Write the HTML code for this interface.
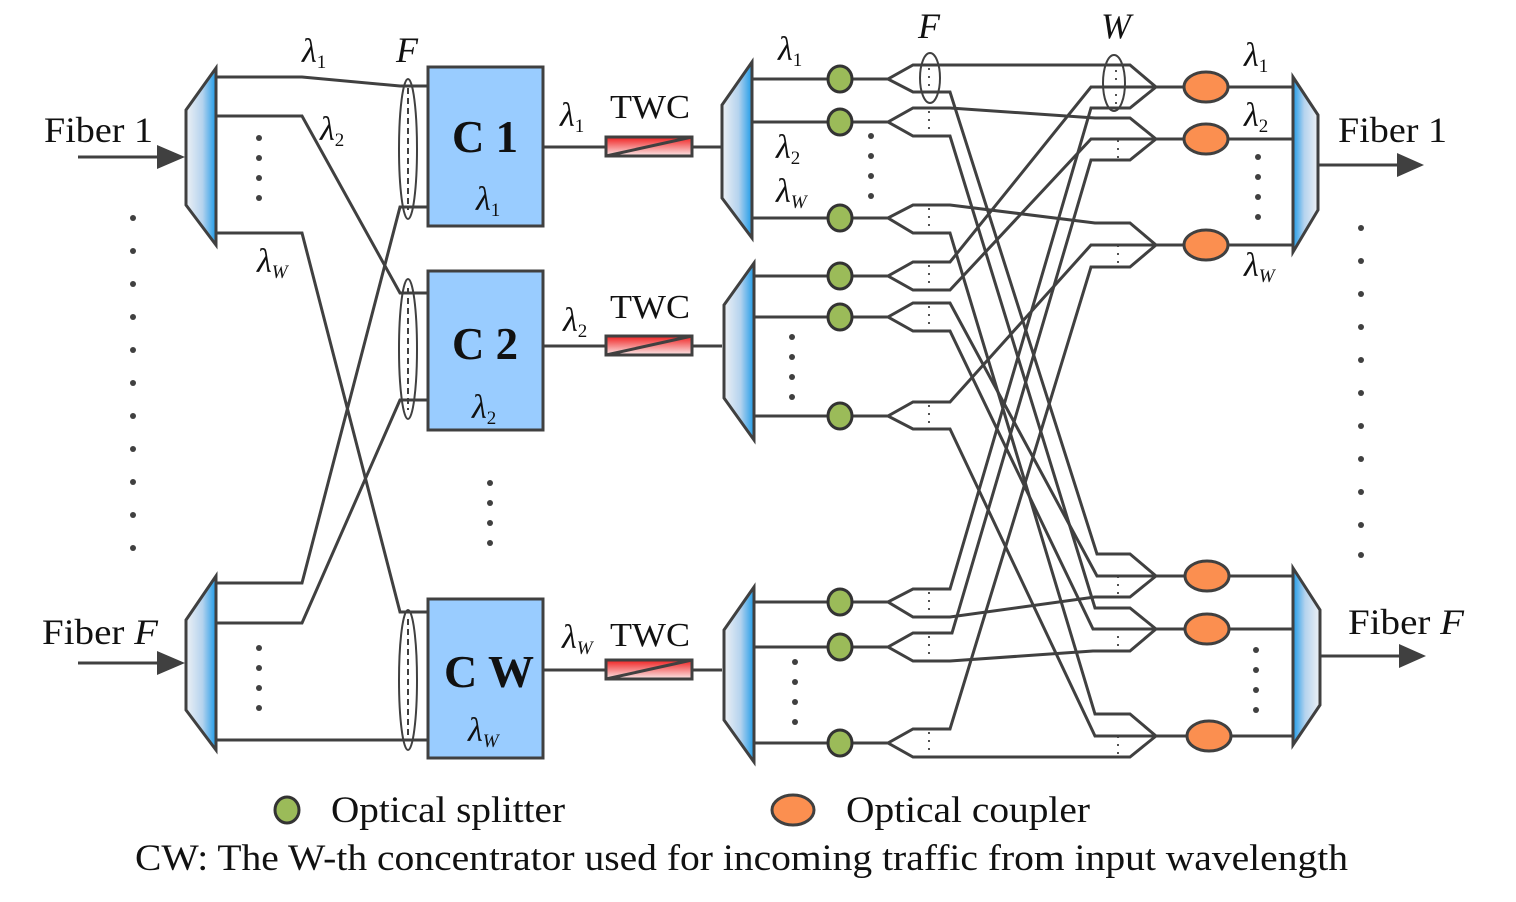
<!DOCTYPE html>
<html><head><meta charset="utf-8"><style>
html,body{margin:0;padding:0;background:#fff}
svg{display:block}
text{font-family:"Liberation Serif",serif;fill:#111}
</style></head><body>
<svg width="1516" height="902" viewBox="0 0 1516 902" xmlns="http://www.w3.org/2000/svg">
<defs>
<linearGradient id="gR" x1="0" x2="1" y1="0" y2="0"><stop offset="0" stop-color="#eef1f5"/><stop offset="0.55" stop-color="#b5d3ee"/><stop offset="1" stop-color="#1e9be8"/></linearGradient>
<linearGradient id="gL" x1="1" x2="0" y1="0" y2="0"><stop offset="0" stop-color="#eef1f5"/><stop offset="0.55" stop-color="#b5d3ee"/><stop offset="1" stop-color="#1e9be8"/></linearGradient>
<linearGradient id="gT" x1="0" x2="0" y1="0" y2="1"><stop offset="0" stop-color="#f02020"/><stop offset="1" stop-color="#fbe8e8"/></linearGradient>
</defs>
<g stroke="#404040" stroke-width="3" fill="none">
<line x1="78" y1="157" x2="160" y2="157"/><path d="M157,145 L185,157 L157,169 z" fill="#404040" stroke="none"/>
<line x1="78" y1="663" x2="160" y2="663"/><path d="M157,651 L185,663 L157,675 z" fill="#404040" stroke="none"/>
<path d="M186,110 L216,68 L216,245 L186,205 z" fill="url(#gR)"/>
<path d="M186,620 L216,576 L216,750 L186,710 z" fill="url(#gR)"/>
<polyline points="216,77 302,77 400,86 428,86"/>
<polyline points="216,116 302,116 400,293 428,293"/>
<polyline points="216,233 302,233 400,612 428,612"/>
<polyline points="216,583 302,583 400,207 428,207"/>
<polyline points="216,623 302,623 400,400 428,400"/>
<polyline points="216,740 428,740"/>
<rect x="428" y="67" width="115" height="159" fill="#99ccff"/>
<rect x="428" y="271" width="115" height="159" fill="#99ccff"/>
<rect x="428" y="599" width="115" height="159" fill="#99ccff"/>
<g stroke-width="2">
<ellipse cx="408" cy="149" rx="9" ry="70"/><line x1="408" y1="88" x2="408" y2="210" stroke-dasharray="6,4"/>
<ellipse cx="408" cy="349" rx="9" ry="70"/><line x1="408" y1="288" x2="408" y2="410" stroke-dasharray="6,4"/>
<ellipse cx="408" cy="680" rx="9" ry="70"/><line x1="408" y1="619" x2="408" y2="741" stroke-dasharray="6,4"/>
</g>
<line x1="543" y1="147" x2="722" y2="147"/>
<line x1="543" y1="346" x2="722" y2="346"/>
<line x1="543" y1="670" x2="722" y2="670"/>
<rect x="606" y="137" width="86" height="19" fill="url(#gT)"/><line x1="606" y1="156" x2="692" y2="137"/>
<rect x="606" y="336" width="86" height="19" fill="url(#gT)"/><line x1="606" y1="355" x2="692" y2="336"/>
<rect x="606" y="660" width="86" height="19" fill="url(#gT)"/><line x1="606" y1="679" x2="692" y2="660"/>
<line x1="752" y1="79" x2="888" y2="79"/><line x1="752" y1="122" x2="888" y2="122"/><line x1="752" y1="218" x2="888" y2="218"/>
<line x1="752" y1="276" x2="888" y2="276"/><line x1="752" y1="317" x2="888" y2="317"/><line x1="752" y1="416" x2="888" y2="416"/>
<line x1="752" y1="602" x2="888" y2="602"/><line x1="752" y1="647" x2="888" y2="647"/><line x1="752" y1="743" x2="888" y2="743"/>
<path d="M722,105 L752,62 L752,238 L722,198 z" fill="url(#gR)"/>
<path d="M724,305 L754,263 L754,440 L724,398 z" fill="url(#gR)"/>
<path d="M724,630 L754,587 L754,762 L724,720 z" fill="url(#gR)"/>
<polyline points="888,79 913,65 1130,65 1156,87"/>
<polyline points="888,79 913,92 950,92 1097,554 1130,554 1156,576"/>
<polyline points="888,122 913,108 950,108 1095,118 1130,118 1156,139"/>
<polyline points="888,122 913,136 950,136 1095,608 1130,608 1156,629"/>
<polyline points="888,218 913,205 950,205 1095,223 1130,223 1156,245"/>
<polyline points="888,218 913,233 950,233 1095,714 1130,714 1156,736"/>
<polyline points="888,276 913,262 950,262 1091,87 1156,87"/>
<polyline points="888,276 913,290 950,290 1091,139 1156,139"/>
<polyline points="888,317 913,303 950,303 1097,576 1156,576"/>
<polyline points="888,317 913,331 950,331 1093,629 1156,629"/>
<polyline points="888,416 913,402 950,402 1091,245 1156,245"/>
<polyline points="888,416 913,429 950,429 1095,736 1156,736"/>
<polyline points="888,602 913,589 950,589 1091,108 1130,108 1156,87"/>
<polyline points="888,602 913,617 950,617 1095,597 1130,597 1156,576"/>
<polyline points="888,647 913,633 952,633 1091,160 1130,160 1156,139"/>
<polyline points="888,647 913,661 950,661 1093,651 1130,651 1156,629"/>
<polyline points="888,743 913,729 950,729 1091,267 1130,267 1156,245"/>
<polyline points="888,743 913,757 1130,757 1156,736"/>
<line x1="1156" y1="87" x2="1293" y2="87"/><line x1="1156" y1="139" x2="1293" y2="139"/><line x1="1156" y1="245" x2="1293" y2="245"/>
<line x1="1156" y1="576" x2="1293" y2="576"/><line x1="1156" y1="629" x2="1293" y2="629"/><line x1="1156" y1="736" x2="1293" y2="736"/>
<path d="M1293,77 L1318,115 L1318,210 L1293,252 z" fill="url(#gL)"/>
<path d="M1293,568 L1320,610 L1320,705 L1293,745 z" fill="url(#gL)"/>
<line x1="1318" y1="165" x2="1400" y2="165"/><path d="M1397,153 L1424,165 L1397,177 z" fill="#404040" stroke="none"/>
<line x1="1320" y1="656" x2="1402" y2="656"/><path d="M1399,644 L1426,656 L1399,668 z" fill="#404040" stroke="none"/>
<g fill="#9bbb59" stroke="#333">
<ellipse cx="840" cy="79" rx="12" ry="13"/><ellipse cx="840" cy="122" rx="12" ry="13"/><ellipse cx="840" cy="218" rx="12" ry="13"/>
<ellipse cx="840" cy="276" rx="12" ry="13"/><ellipse cx="840" cy="317" rx="12" ry="13"/><ellipse cx="840" cy="416" rx="12" ry="13"/>
<ellipse cx="840" cy="602" rx="12" ry="13"/><ellipse cx="840" cy="647" rx="12" ry="13"/><ellipse cx="840" cy="743" rx="12" ry="13"/>
<ellipse cx="287" cy="810" rx="12" ry="13"/>
</g>
<g fill="#fb8f50" stroke="#404040">
<ellipse cx="1206" cy="87" rx="22" ry="15"/><ellipse cx="1206" cy="139" rx="22" ry="15"/><ellipse cx="1206" cy="245" rx="22" ry="15"/>
<ellipse cx="1207" cy="576" rx="22" ry="15"/><ellipse cx="1207" cy="629" rx="22" ry="15"/><ellipse cx="1209" cy="736" rx="22" ry="15"/>
<ellipse cx="793" cy="810" rx="21" ry="15"/>
</g>
<g stroke-width="1.8" stroke-dasharray="2,6">
<line x1="929" y1="68" x2="929" y2="92"/><line x1="929" y1="111" x2="929" y2="136"/><line x1="929" y1="208" x2="929" y2="233"/>
<line x1="929" y1="265" x2="929" y2="290"/><line x1="929" y1="306" x2="929" y2="331"/><line x1="929" y1="405" x2="929" y2="429"/>
<line x1="929" y1="592" x2="929" y2="617"/><line x1="929" y1="636" x2="929" y2="661"/><line x1="929" y1="732" x2="929" y2="757"/>
<line x1="1116" y1="70" x2="1116" y2="105"/><line x1="1118" y1="140" x2="1118" y2="158"/><line x1="1118" y1="245" x2="1118" y2="264"/>
<line x1="1118" y1="576" x2="1118" y2="595"/><line x1="1118" y1="628" x2="1118" y2="649"/><line x1="1118" y1="736" x2="1118" y2="755"/>
</g>
<g stroke-width="2">
<ellipse cx="930" cy="78" rx="10" ry="25"/>
<ellipse cx="1114" cy="83" rx="11" ry="28"/>
</g>
</g>
<g fill="#404040">
<circle cx="133" cy="218" r="3"/><circle cx="133" cy="251" r="3"/><circle cx="133" cy="284" r="3"/><circle cx="133" cy="317" r="3"/><circle cx="133" cy="350" r="3"/><circle cx="133" cy="383" r="3"/><circle cx="133" cy="416" r="3"/><circle cx="133" cy="449" r="3"/><circle cx="133" cy="482" r="3"/><circle cx="133" cy="515" r="3"/><circle cx="133" cy="548" r="3"/>
<circle cx="1361" cy="228" r="3"/><circle cx="1361" cy="261" r="3"/><circle cx="1361" cy="294" r="3"/><circle cx="1361" cy="327" r="3"/><circle cx="1361" cy="360" r="3"/><circle cx="1361" cy="393" r="3"/><circle cx="1361" cy="426" r="3"/><circle cx="1361" cy="459" r="3"/><circle cx="1361" cy="492" r="3"/><circle cx="1361" cy="525" r="3"/><circle cx="1361" cy="555" r="3"/>
<circle cx="259" cy="138" r="3"/><circle cx="259" cy="158" r="3"/><circle cx="259" cy="178" r="3"/><circle cx="259" cy="198" r="3"/>
<circle cx="259" cy="648" r="3"/><circle cx="259" cy="668" r="3"/><circle cx="259" cy="688" r="3"/><circle cx="259" cy="708" r="3"/>
<circle cx="490" cy="483" r="3"/><circle cx="490" cy="503" r="3"/><circle cx="490" cy="523" r="3"/><circle cx="490" cy="543" r="3"/>
<circle cx="871" cy="136" r="3"/><circle cx="871" cy="156" r="3"/><circle cx="871" cy="176" r="3"/><circle cx="871" cy="196" r="3"/>
<circle cx="792" cy="337" r="3"/><circle cx="792" cy="357" r="3"/><circle cx="792" cy="377" r="3"/><circle cx="792" cy="397" r="3"/>
<circle cx="795" cy="662" r="3"/><circle cx="795" cy="682" r="3"/><circle cx="795" cy="702" r="3"/><circle cx="795" cy="722" r="3"/>
<circle cx="1258" cy="157" r="3"/><circle cx="1258" cy="177" r="3"/><circle cx="1258" cy="197" r="3"/><circle cx="1258" cy="217" r="3"/>
<circle cx="1256" cy="650" r="3"/><circle cx="1256" cy="670" r="3"/><circle cx="1256" cy="690" r="3"/><circle cx="1256" cy="710" r="3"/>
</g>
<g font-size="36">
<text x="44" y="142" textLength="109" lengthAdjust="spacingAndGlyphs">Fiber 1</text>
<text x="42" y="644" textLength="116" lengthAdjust="spacingAndGlyphs">Fiber <tspan font-style="italic">F</tspan></text>
<text x="1338" y="142" textLength="109" lengthAdjust="spacingAndGlyphs">Fiber 1</text>
<text x="1348" y="634" textLength="116" lengthAdjust="spacingAndGlyphs">Fiber <tspan font-style="italic">F</tspan></text>
<text x="610" y="118" font-size="34" textLength="80" lengthAdjust="spacingAndGlyphs">TWC</text>
<text x="610" y="318" font-size="34" textLength="80" lengthAdjust="spacingAndGlyphs">TWC</text>
<text x="610" y="646" font-size="34" textLength="80" lengthAdjust="spacingAndGlyphs">TWC</text>
<text x="396" y="62" font-style="italic">F</text>
<text x="918" y="38" font-style="italic">F</text>
<text x="1101" y="38" font-style="italic">W</text>
</g>
<g font-size="46" font-weight="bold">
<text x="452" y="152" textLength="66" lengthAdjust="spacingAndGlyphs">C 1</text>
<text x="452" y="359" textLength="66" lengthAdjust="spacingAndGlyphs">C 2</text>
<text x="444" y="687" textLength="90" lengthAdjust="spacingAndGlyphs">C W</text>
</g>
<g font-size="34" font-style="italic">
<text x="302" y="62">λ<tspan font-size="19" font-style="normal" dy="6">1</tspan></text>
<text x="320" y="140">λ<tspan font-size="19" font-style="normal" dy="6">2</tspan></text>
<text x="257" y="272">λ<tspan font-size="19" dy="6">W</tspan></text>
<text x="476" y="210">λ<tspan font-size="19" font-style="normal" dy="6">1</tspan></text>
<text x="472" y="418">λ<tspan font-size="19" font-style="normal" dy="6">2</tspan></text>
<text x="468" y="741">λ<tspan font-size="19" dy="6">W</tspan></text>
<text x="560" y="126">λ<tspan font-size="19" font-style="normal" dy="6">1</tspan></text>
<text x="563" y="331">λ<tspan font-size="19" font-style="normal" dy="6">2</tspan></text>
<text x="562" y="648">λ<tspan font-size="19" dy="6">W</tspan></text>
<text x="778" y="60">λ<tspan font-size="19" font-style="normal" dy="6">1</tspan></text>
<text x="776" y="158">λ<tspan font-size="19" font-style="normal" dy="6">2</tspan></text>
<text x="776" y="202">λ<tspan font-size="19" dy="6">W</tspan></text>
<text x="1244" y="66">λ<tspan font-size="19" font-style="normal" dy="6">1</tspan></text>
<text x="1244" y="126">λ<tspan font-size="19" font-style="normal" dy="6">2</tspan></text>
<text x="1244" y="276">λ<tspan font-size="19" dy="6">W</tspan></text>
</g>
<g font-size="37">
<text x="331" y="822" textLength="234" lengthAdjust="spacingAndGlyphs">Optical splitter</text>
<text x="846" y="822" textLength="244" lengthAdjust="spacingAndGlyphs">Optical coupler</text>
<text x="135" y="870" textLength="1213" lengthAdjust="spacingAndGlyphs">CW: The W-th concentrator used for incoming traffic from input wavelength</text>
</g>
</svg>
</body></html>
